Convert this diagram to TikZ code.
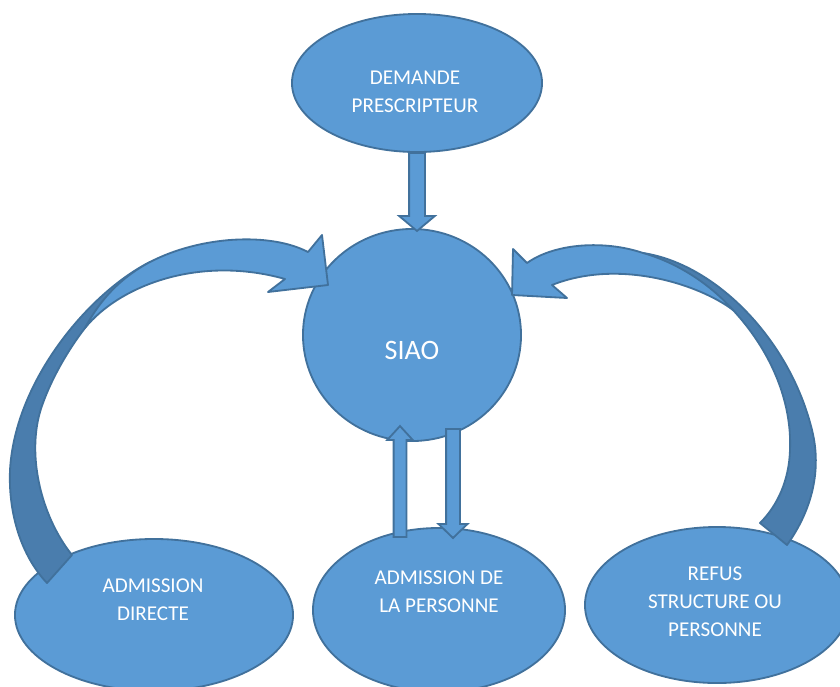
\documentclass[tikz,border=0pt]{standalone}
\usepackage{fontspec}
\setmainfont{Carlito}
\usetikzlibrary{shapes.geometric, shapes.arrows, calc}
\definecolor{siaofill}{HTML}{5B9BD5}
\definecolor{siaoedge}{HTML}{41719C}
\definecolor{siaoshade}{HTML}{4A7DAD}
\tikzset{
bubble/.style={ellipse, draw=siaoedge, fill=siaofill, line width=1.3pt, inner sep=0pt},
lbl/.style={text=white, align=center, inner sep=0pt, font=\fontsize{15pt}{19.9pt}\selectfont},
blockarrow/.style={single arrow, draw=siaoedge, fill=siaofill, line width=1.3pt, outer sep=0pt, anchor=tail},
band/.style={draw=siaoedge, fill=siaofill, line width=1.3pt, line join=round}
}
\begin{document}
\begin{tikzpicture}[x=0.025cm, y=-0.025cm]
  \useasboundingbox (0,0) rectangle (840,686);
  \clip (0,0) rectangle (840,686);
  % ellipses
  \node[bubble, minimum width=6.25cm, minimum height=3.45cm] (demande) at (417,83) {};
  \node[bubble, minimum width=5.45cm, minimum height=5.3cm] (siao) at (412,335) {};
  \node[bubble, minimum width=6.95cm, minimum height=3.8cm] (direct) at (154,615) {};
  \node[bubble, minimum width=6.3cm, minimum height=4.1cm] (personne) at (439,610) {};
  \node[bubble, minimum width=6.6cm, minimum height=3.9cm] (refus) at (717,605) {};
  % texts
  \node[lbl] (demandetxt) at (415,92) {DEMANDE\\PRESCRIPTEUR};
  \node[lbl, font=\fontsize{20pt}{24pt}\selectfont] (siaotxt) at (412,350) {SIAO};
  \node[lbl] (directtxt) at (153,600) {ADMISSION\\DIRECTE};
  \node[lbl] (personnetxt) at (439,592) {ADMISSION DE\\LA PERSONNE};
  \node[lbl] (refustxt) at (715,602) {REFUS\\STRUCTURE OU\\PERSONNE};
  % straight arrows
  \node[blockarrow, rotate=-90, minimum height=1.95cm, inner sep=0.175cm,
    single arrow head extend=0.25cm, single arrow tip angle=100] (down1) at (demande.south) {};
  \node[blockarrow, rotate=90, minimum height=2.775cm, inner sep=0.1375cm,
    single arrow head extend=0.16cm, single arrow tip angle=85] (up2) at ($(personne.north)+(-39,10)$) {};
  \node[blockarrow, rotate=-90, minimum height=2.725cm, inner sep=0.15cm,
    single arrow head extend=0.19cm, single arrow tip angle=92] (down2) at ($(siao.south)+(41,-13)$) {};
  % left curved arrow
  \draw[band, fill=siaoshade] (72,555) -- (47,583) .. controls (25,560) and (8,520) .. (10,470)
    .. controls (15,380) and (90,292) .. (150,262)
    .. controls (118,282) and (102,302) .. (85,328)
    .. controls (68,350) and (52,378) .. (43,403)
    .. controls (25,450) and (40,515) .. (72,555) -- cycle;
  \draw[band] (308,252) .. controls (270,232) and (200,236) .. (150,262)
    .. controls (120,278) and (100,300) .. (85,328)
    .. controls (120,285) and (200,255) .. (285,279)
    -- (268,292) -- (328,285) -- (322,235) -- cycle;
  % right curved arrow
  \draw[band, fill=siaoshade] (760,523) -- (787,545) .. controls (812,510) and (822,470) .. (812,430)
    .. controls (790,340) and (716,264) .. (643,253)
    .. controls (680,270) and (712,290) .. (733,310)
    .. controls (770,350) and (792,400) .. (790,450)
    .. controls (789,480) and (778,505) .. (760,523) -- cycle;
  \draw[band] (527,263) .. controls (555,243) and (605,240) .. (643,253)
    .. controls (675,262) and (708,282) .. (733,310)
    .. controls (700,285) and (620,258) .. (552,285)
    -- (567,298) -- (512,295) -- (513,249) -- cycle;
\end{tikzpicture}
\end{document}
